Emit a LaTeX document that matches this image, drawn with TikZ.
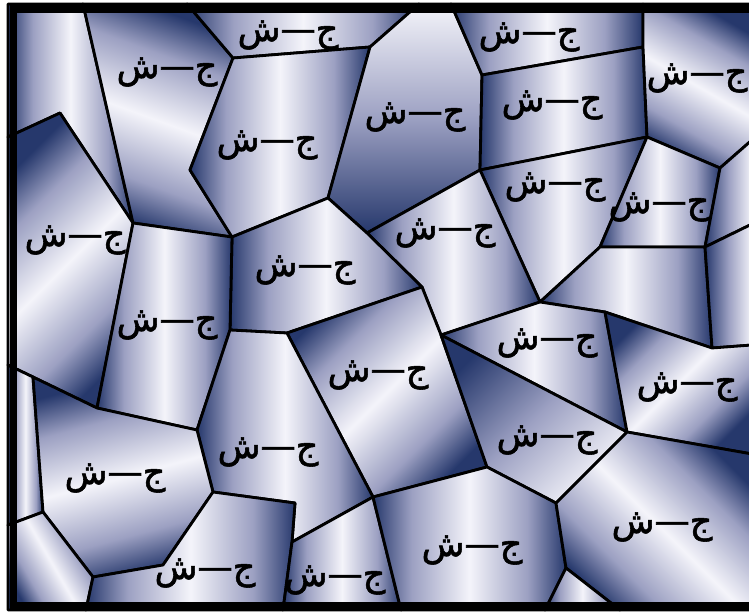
\documentclass[tikz,border=0pt]{standalone}
\usepackage{fontspec}
\newfontfamily\arabicfont[Script=Arabic,FakeBold=1.6]{DejaVu Sans}
\TeXXeTstate=1
\definecolor{grainDark}{RGB}{38,56,108}
\definecolor{grainMid}{RGB}{156,160,194}
\definecolor{grainLight}{RGB}{244,244,250}
\pgfdeclarehorizontalshading{metal}{100bp}{color(0bp)=(grainDark); color(25bp)=(grainDark);
  color(35bp)=(grainMid); color(50bp)=(grainLight); color(65bp)=(grainMid);
  color(75bp)=(grainDark); color(100bp)=(grainDark)}
\pgfdeclarehorizontalshading{fade}{100bp}{color(0bp)=(grainLight); color(25bp)=(grainLight);
  color(50bp)=(grainMid); color(75bp)=(grainDark); color(100bp)=(grainDark)}
\newcommand{\jsh}{\arabicfont\beginR ج—ش\endR}

\begin{document}
\begin{tikzpicture}[x=0.02cm,y=-0.02cm,
    cell/.style={draw=black,line width=1.6pt,line join=round,shading=metal},
    lbl/.style={font=\fontsize{20}{20}\selectfont,inner sep=0pt}]
  \useasboundingbox (0,0) rectangle (749,615);
  \clip (0,0) rectangle (749,615);
  \fill[white] (0,0) rectangle (749,615);
  % corners of the grains (pixels, y down)
  \coordinate (tl) at (8,4);     \coordinate (tr) at (752,4);
  \coordinate (bl) at (8,610);   \coordinate (br) at (752,610);
  \coordinate (a) at (83,4);     \coordinate (b) at (187,4);
  \coordinate (c) at (419,4);    \coordinate (d) at (451,4);
  \coordinate (e) at (643,4);
  \coordinate (p1) at (8,137);   \coordinate (p2) at (60,113);
  \coordinate (p3) at (133,223); \coordinate (p4) at (233,58);
  \coordinate (p5) at (370,47);  \coordinate (p6) at (190,170);
  \coordinate (p7) at (232,237); \coordinate (p8) at (328,198);
  \coordinate (p9) at (482,75);  \coordinate (p10) at (643,47);
  \coordinate (p11) at (480,170);\coordinate (p12) at (647,137);
  \coordinate (p13) at (720,168);\coordinate (p14) at (752,140);
  \coordinate (p15) at (367,233);\coordinate (p16) at (422,287);
  \coordinate (p17) at (540,302);\coordinate (p18) at (600,247);
  \coordinate (p19) at (705,247);\coordinate (p20) at (752,224);
  \coordinate (p21) at (712,348);\coordinate (p22) at (752,345);
  \coordinate (p23) at (605,312);\coordinate (p24) at (441,335);
  \coordinate (p25) at (627,432);\coordinate (p26) at (752,454);
  \coordinate (p27) at (97,408); \coordinate (p28) at (33,377);
  \coordinate (p29) at (8,365);  \coordinate (p30) at (230,330);
  \coordinate (p31) at (287,333);\coordinate (p32) at (197,430);
  \coordinate (p33) at (213,492);\coordinate (p34) at (163,565);
  \coordinate (p35) at (93,577); \coordinate (p36) at (43,512);
  \coordinate (p37) at (8,525);  \coordinate (p38) at (86,610);
  \coordinate (p39) at (295,503);\coordinate (p40) at (292,542);
  \coordinate (p41) at (283,610);\coordinate (p42) at (373,497);
  \coordinate (p43) at (401,610);\coordinate (p44) at (487,467);
  \coordinate (p45) at (556,503);\coordinate (p46) at (566,568);
  \coordinate (p47) at (545,610);\coordinate (p48) at (620,610);
  % grains, top row
  \shadedraw[cell] (tl) -- (a) -- (p3) -- (p2) -- (p1) -- cycle;
  \shadedraw[cell,shading angle=70] (a) -- (b) -- (p4) -- (p6) -- (p7) -- (p3) -- cycle;
  \shadedraw[cell] (b) -- (c) -- (p5) -- (p4) -- cycle;
  \shadedraw[cell] (p4) -- (p5) -- (p8) -- (p7) -- (p6) -- cycle;
  \shadedraw[cell,shading=fade,shading angle=-90] (p5) -- (c) -- (d) -- (p9) -- (p11) -- (p15) -- (p8) -- cycle;
  \shadedraw[cell] (d) -- (e) -- (p10) -- (p9) -- cycle;
  \shadedraw[cell] (p9) -- (p10) -- (p12) -- (p11) -- cycle;
  \shadedraw[cell,shading angle=60] (e) -- (tr) -- (p14) -- (p13) -- (p12) -- (p10) -- cycle;
  % grains, middle
  \shadedraw[cell] (p11) -- (p12) -- (p18) -- (p17) -- cycle;
  \shadedraw[cell] (p12) -- (p13) -- (p19) -- (p18) -- cycle;
  \shadedraw[cell,shading=fade,shading angle=180] (p13) -- (p14) -- (p20) -- (p19) -- cycle;
  \shadedraw[cell] (p17) -- (p18) -- (p19) -- (p21) -- (p23) -- cycle;
  \shadedraw[cell,shading=fade,shading angle=180] (p19) -- (p20) -- (p22) -- (p21) -- cycle;
  \shadedraw[cell] (p15) -- (p11) -- (p17) -- (p24) -- (p16) -- cycle;
  \shadedraw[cell] (p7) -- (p8) -- (p15) -- (p16) -- (p31) -- (p30) -- cycle;
  \shadedraw[cell] (p24) -- (p17) -- (p23) -- (p25) -- cycle;
  \shadedraw[cell,shading angle=-45] (p23) -- (p21) -- (p22) -- (p26) -- (p25) -- cycle;
  \shadedraw[cell,shading angle=-45] (p1) -- (p2) -- (p3) -- (p27) -- (p28) -- (p29) -- cycle;
  \shadedraw[cell] (p3) -- (p7) -- (p30) -- (p32) -- (p27) -- cycle;
  \shadedraw[cell,shading angle=-45] (p31) -- (p16) -- (p24) -- (p44) -- (p42) -- cycle;
  \shadedraw[cell] (p30) -- (p31) -- (p42) -- (p40) -- (p39) -- (p33) -- (p32) -- cycle;
  \shadedraw[cell,shading=fade,shading angle=135] (p24) -- (p25) -- (p45) -- (p44) -- cycle;
  % grains, bottom row
  \shadedraw[cell] (p29) -- (p28) -- (p36) -- (p37) -- cycle;
  \shadedraw[cell,shading angle=105] (p28) -- (p27) -- (p32) -- (p33) -- (p34) -- (p35) -- (p36) -- cycle;
  \shadedraw[cell,shading angle=30] (p37) -- (p36) -- (p35) -- (p38) -- (bl) -- cycle;
  \shadedraw[cell] (p35) -- (p34) -- (p33) -- (p39) -- (p40) -- (p41) -- (p38) -- cycle;
  \shadedraw[cell] (p40) -- (p42) -- (p43) -- (p41) -- cycle;
  \shadedraw[cell] (p42) -- (p44) -- (p45) -- (p46) -- (p47) -- (p43) -- cycle;
  \shadedraw[cell,shading angle=45] (p25) -- (p26) -- (br) -- (p48) -- (p46) -- (p45) -- cycle;
  \shadedraw[cell] (p46) -- (p48) -- (p47) -- cycle;
  % labels
  \node[lbl] (g1) at (288,35) {\jsh};
  \node[lbl] (g2) at (167,72) {\jsh};
  \node[lbl] (g3) at (267,145) {\jsh};
  \node[lbl] (g4) at (415,117) {\jsh};
  \node[lbl] (g5) at (529,37) {\jsh};
  \node[lbl] (g6) at (552,105) {\jsh};
  \node[lbl] (g7) at (697,78) {\jsh};
  \node[lbl] (g8) at (555,187) {\jsh};
  \node[lbl] (g9) at (659,207) {\jsh};
  \node[lbl] (g10) at (445,233) {\jsh};
  \node[lbl] (g11) at (305,270) {\jsh};
  \node[lbl] (g12) at (75,240) {\jsh};
  \node[lbl] (g13) at (167,325) {\jsh};
  \node[lbl] (g14) at (268,452) {\jsh};
  \node[lbl] (g15) at (378,375) {\jsh};
  \node[lbl] (g16) at (547,343) {\jsh};
  \node[lbl] (g17) at (687,387) {\jsh};
  \node[lbl] (g18) at (547,440) {\jsh};
  \node[lbl] (g19) at (662,527) {\jsh};
  \node[lbl] (g20) at (472,550) {\jsh};
  \node[lbl] (g21) at (335,580) {\jsh};
  \node[lbl] (g22) at (205,573) {\jsh};
  \node[lbl] (g23) at (115,478) {\jsh};
  % frame
  \draw[line width=4pt] (13.5,9) rectangle (752,606);
\end{tikzpicture}
\end{document}
